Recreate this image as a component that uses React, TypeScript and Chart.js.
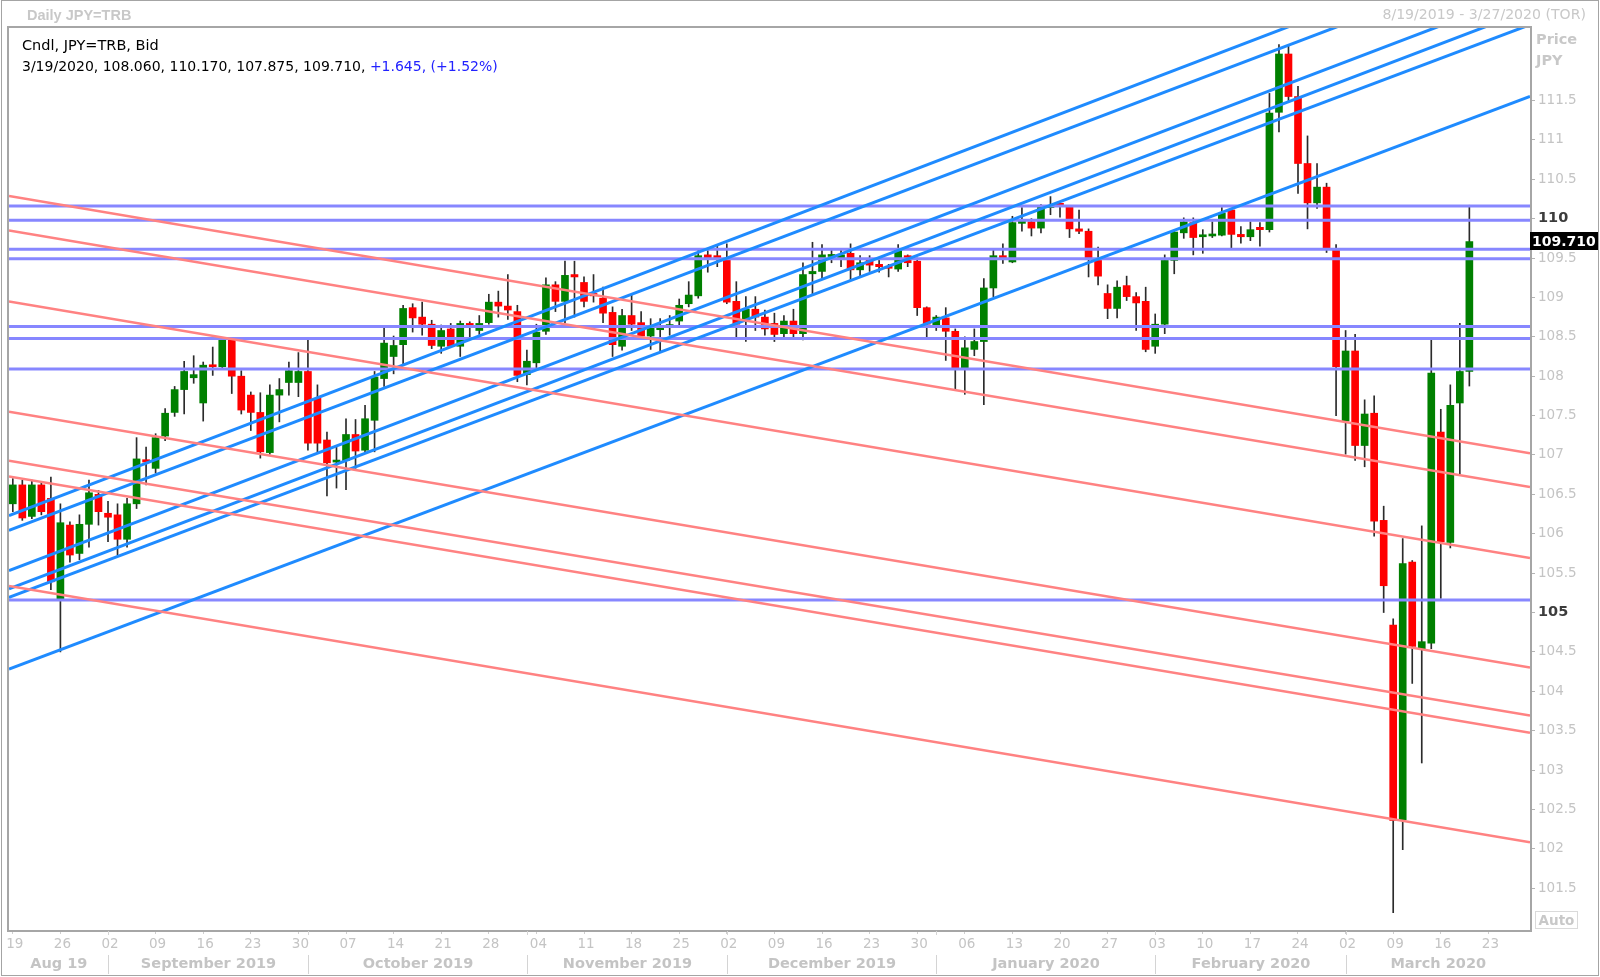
import React, { useEffect, useRef } from 'react';
import { Chart, registerables } from 'chart.js';

Chart.register(...registerables);

// Daily candles, one per weekday from Mon 19 Aug 2019 (index 0) to Thu 19 Mar 2020 (index 153)
const opens = [
  106.38, 106.62, 106.22, 106.62, 106.45, 105.17, 106.11, 105.75, 106.12, 106.50,
  106.26, 106.24, 105.93, 106.38, 106.94, 106.83, 107.24, 107.54, 107.83, 107.98,
  107.66, 108.14, 108.12, 108.47, 108.00, 107.76, 107.54, 107.03, 107.76, 107.92,
  107.92, 108.06, 107.72, 107.19, 106.91, 106.93, 107.26, 107.06, 107.44, 107.97,
  108.25, 108.40, 108.87, 108.75, 108.66, 108.38, 108.60, 108.38, 108.67, 108.58,
  108.68, 108.94, 108.89, 108.82, 108.02, 108.17, 108.57, 109.16, 108.95, 109.29,
  109.19, 109.05, 108.99, 108.81, 108.38, 108.77, 108.68, 108.51, 108.59, 108.63,
  108.70, 108.92, 109.02, 109.54, 109.53, 109.50, 108.95, 108.70, 108.85, 108.75,
  108.67, 108.54, 108.70, 108.54, 109.30, 109.33, 109.52, 109.50, 109.56, 109.35,
  109.47, 109.42, 109.39, 109.36, 109.53, 109.46, 108.87, 108.65, 108.74, 108.57,
  108.10, 108.34, 108.44, 109.12, 109.53, 109.45, 109.94, 109.96, 109.88, 110.14,
  110.18, 110.15, 109.87, 109.84, 109.47, 109.05, 108.86, 109.15, 109.01, 108.95,
  108.38, 108.66, 109.47, 109.82, 109.95, 109.77, 109.78, 109.79, 110.11, 109.80,
  109.77, 109.89, 109.86, 111.35, 112.09, 111.55, 110.70, 110.20, 110.40, 109.60,
  107.43, 108.32, 107.12, 107.53, 106.17, 104.84, 102.37, 105.64, 104.54, 104.61,
  107.29, 105.89, 107.66, 108.06,
];
const highs = [
  106.70, 106.68, 106.68, 106.66, 106.72, 106.38, 106.15, 106.24, 106.68, 106.55,
  106.41, 106.38, 106.45, 107.22, 107.10, 107.27, 107.59, 107.87, 108.19, 108.26,
  108.18, 108.37, 108.48, 108.48, 108.07, 107.80, 107.79, 107.89, 107.97, 108.18,
  108.30, 108.46, 107.89, 107.29, 107.10, 107.46, 107.45, 107.63, 108.06, 108.61,
  108.51, 108.90, 108.92, 108.94, 108.71, 108.65, 108.67, 108.70, 108.69, 108.77,
  109.04, 109.08, 109.29, 108.90, 108.33, 108.66, 109.25, 109.20, 109.46, 109.46,
  109.26, 109.29, 109.13, 108.88, 108.85, 109.04, 108.82, 108.73, 108.73, 108.77,
  108.98, 109.20, 109.61, 109.61, 109.66, 109.68, 109.20, 109.01, 109.01, 108.84,
  108.80, 108.77, 108.85, 109.44, 109.70, 109.67, 109.60, 109.60, 109.68, 109.53,
  109.53, 109.47, 109.42, 109.67, 109.54, 109.50, 108.88, 108.77, 108.87, 108.60,
  108.50, 108.60, 109.24, 109.60, 109.68, 110.03, 110.14, 110.00, 110.18, 110.28,
  110.20, 110.16, 110.11, 109.87, 109.64, 109.16, 109.21, 109.27, 109.06, 109.13,
  108.79, 109.54, 109.85, 110.01, 110.01, 109.86, 109.96, 110.14, 110.13, 109.90,
  109.96, 109.95, 111.59, 112.21, 112.19, 111.68, 111.05, 110.70, 110.45, 109.67,
  108.58, 108.53, 107.70, 107.75, 106.35, 104.92, 105.94, 105.66, 106.10, 108.46,
  107.58, 107.89, 108.67, 110.17,
];
const lows = [
  106.28, 106.17, 106.19, 106.24, 105.29, 104.50, 105.64, 105.67, 105.83, 106.11,
  105.90, 105.73, 105.83, 106.32, 106.62, 106.77, 107.18, 107.49, 107.52, 107.91,
  107.43, 108.01, 108.10, 107.78, 107.52, 107.31, 106.96, 107.01, 107.42, 107.76,
  107.74, 107.06, 107.04, 106.48, 106.58, 106.56, 106.83, 107.02, 107.04, 107.87,
  108.03, 108.16, 108.56, 108.52, 108.35, 108.29, 108.43, 108.25, 108.50, 108.53,
  108.66, 108.75, 108.72, 107.93, 107.89, 108.10, 108.53, 108.82, 108.68, 108.75,
  108.88, 108.94, 108.68, 108.25, 108.33, 108.58, 108.48, 108.34, 108.31, 108.52,
  108.64, 108.88, 108.99, 109.32, 109.39, 108.92, 108.50, 108.44, 108.58, 108.52,
  108.44, 108.50, 108.50, 108.46, 109.04, 109.25, 109.44, 109.39, 109.22, 109.27,
  109.33, 109.32, 109.26, 109.33, 109.39, 108.77, 108.50, 108.58, 108.20, 107.84,
  107.77, 108.26, 107.64, 109.01, 109.43, 109.44, 109.84, 109.78, 109.82, 110.05,
  110.02, 109.76, 109.81, 109.26, 109.16, 108.73, 108.74, 108.96, 108.58, 108.31,
  108.29, 108.54, 109.30, 109.75, 109.54, 109.56, 109.76, 109.78, 109.63, 109.69,
  109.72, 109.65, 109.83, 111.10, 111.50, 110.32, 109.87, 110.13, 109.57, 107.50,
  107.01, 106.93, 106.85, 105.97, 105.00, 101.19, 101.99, 104.10, 103.09, 104.54,
  105.18, 105.82, 106.76, 107.875,
];
const closes = [
  106.62, 106.20, 106.62, 106.28, 105.39, 106.14, 105.73, 106.12, 106.52, 106.28,
  106.21, 105.93, 106.38, 106.95, 106.91, 107.22, 107.53, 107.83, 108.06, 108.02,
  108.14, 108.12, 108.47, 108.00, 107.57, 107.54, 107.04, 107.76, 107.83, 108.07,
  108.06, 107.15, 107.15, 106.90, 106.92, 107.26, 107.05, 107.46, 107.99, 108.42,
  108.39, 108.86, 108.74, 108.66, 108.39, 108.58, 108.38, 108.67, 108.63, 108.67,
  108.94, 108.89, 108.84, 108.01, 108.19, 108.56, 109.16, 108.95, 109.28, 109.26,
  108.95, 109.02, 108.80, 108.40, 108.77, 108.66, 108.51, 108.61, 108.60, 108.65,
  108.90, 109.03, 109.53, 109.50, 109.49, 108.94, 108.66, 108.85, 108.75, 108.60,
  108.53, 108.70, 108.54, 109.29, 109.33, 109.54, 109.54, 109.54, 109.35, 109.44,
  109.41, 109.39, 109.37, 109.61, 109.44, 108.87, 108.66, 108.75, 108.57, 108.10,
  108.36, 108.44, 109.12, 109.53, 109.49, 109.95, 109.97, 109.88, 110.15, 110.15,
  110.17, 109.87, 109.84, 109.50, 109.27, 108.86, 109.13, 109.01, 108.93, 108.34,
  108.66, 109.47, 109.83, 109.96, 109.76, 109.78, 109.79, 110.07, 109.80, 109.77,
  109.86, 109.86, 111.34, 112.09, 111.55, 110.70, 110.20, 110.40, 109.62, 108.12,
  108.32, 107.12, 107.52, 106.16, 105.34, 102.36, 105.62, 104.57, 104.63, 108.04,
  105.90, 107.63, 108.06, 109.71,
];

// Weekly (Monday) tick positions and labels
const weekTickIdx = [0, 5, 10, 15, 20, 25, 30, 35, 40, 45, 50, 55, 60, 65, 70, 75, 80, 85, 90, 95, 100, 105, 110, 115, 120, 125, 130, 135, 140, 145, 150, 155];
const weekLabels = ['19', '26', '02', '09', '16', '23', '30', '07', '14', '21', '28', '04', '11', '18', '25', '02', '09', '16', '23', '30', '06', '13', '20', '27', '03', '10', '17', '24', '02', '09', '16', '23'];
// Month bands: first weekday index of each new month, and the month names
const monthStartIdx = [10, 31, 54, 75, 97, 120, 140];
const monthLabels = ['Aug 19', 'September 2019', 'October 2019', 'November 2019', 'December 2019', 'January 2020', 'February 2020', 'March 2020'];

// Price axis ticks
const priceTicks = [101.5, 102, 102.5, 103, 103.5, 104, 104.5, 105, 105.5, 106, 106.5, 107, 107.5, 108, 108.5, 109, 109.5, 110, 110.5, 111, 111.5];
const boldPriceTicks = [105, 110];

// Drawn studies: horizontal levels and trend lines given by two anchor points [index1, price1, index2, price2]
const levelLines = [110.16, 109.98, 109.61, 109.49, 108.63, 108.48, 108.09, 105.16];
const risingLines = [
  [0, 106.25, 120, 111.79],
  [0, 106.06, 120, 111.56],
  [0, 105.55, 120, 111.07],
  [0, 105.32, 120, 110.84],
  [0, 105.21, 120, 110.67],
  [0, 104.30, 120, 109.76],
];
const fallingLines = [
  [0, 110.28, 159, 107.03],
  [0, 109.84, 159, 106.60],
  [0, 108.94, 159, 105.70],
  [0, 107.54, 159, 104.31],
  [0, 106.92, 159, 103.70],
  [0, 106.72, 159, 103.48],
  [0, 105.33, 159, 102.09],
];

const X_MIN = -0.4;
const X_MAX = 159.37;
const Y_MIN = 100.97;
const Y_MAX = 112.42;

const GREEN = '#008000';
const RED = '#ff0000';
const AXIS_TEXT = '#c4c4c4';

function extend(seg: number[]) {
  const [x1, y1, x2, y2] = seg;
  const k = (y2 - y1) / (x2 - x1);
  return [
    { x: X_MIN, y: y1 + (X_MIN - x1) * k },
    { x: X_MAX, y: y1 + (X_MAX - x1) * k },
  ];
}

function lineDataset(points: { x: number; y: number }[], color: string, width: number) {
  return {
    type: 'line' as const,
    data: points,
    borderColor: color,
    borderWidth: width,
    pointRadius: 0,
    fill: false,
    tension: 0,
    clip: 0,
    order: 0,
  };
}

const decorPlugin = {
  id: 'decor',
  afterDraw(chart: any) {
    const { ctx, chartArea: a, scales } = chart;
    const xs = scales.x;
    const ys = scales.y;
    ctx.save();
    // plot frame
    ctx.strokeStyle = '#a6a6a6';
    ctx.lineWidth = 2;
    ctx.strokeRect(a.left - 1, a.top - 1, a.right - a.left + 2, a.bottom - a.top + 2);

    // month separators, boundary ticks and month names
    ctx.strokeStyle = '#d4d4d4';
    ctx.lineWidth = 1;
    const bounds = [a.left];
    monthStartIdx.forEach((ix) => {
      const px = Math.round(xs.getPixelForValue(ix)) + 0.5;
      bounds.push(px);
      ctx.beginPath();
      ctx.moveTo(px, a.bottom + 25);
      ctx.lineTo(px, a.bottom + 44);
      ctx.moveTo(px, a.bottom + 1);
      ctx.lineTo(px, a.bottom + 5);
      ctx.stroke();
    });
    bounds.push(a.right);
    ctx.fillStyle = AXIS_TEXT;
    ctx.font = 'bold 14.5px "DejaVu Sans"';
    ctx.textAlign = 'center';
    ctx.textBaseline = 'middle';
    monthLabels.forEach((lab, k) => {
      const cx = (bounds[k] + bounds[k + 1]) / 2;
      ctx.fillText(lab, cx, a.bottom + 34);
    });

    // last price marker
    const last = closes[closes.length - 1];
    const yp = ys.getPixelForValue(last);
    ctx.fillStyle = '#000000';
    ctx.fillRect(a.right, Math.round(yp - 9), 68, 18);
    ctx.fillStyle = '#ffffff';
    ctx.font = 'bold 14px "DejaVu Sans"';
    ctx.textAlign = 'left';
    ctx.fillText(last.toFixed(3), a.right + 2, yp + 0.5);
    ctx.restore();
  },
};

export default function App() {
  const canvasRef = useRef<HTMLCanvasElement | null>(null);

  useEffect(() => {
    const canvas = canvasRef.current;
    if (!canvas) return;

    const bodyData = opens.map((o, i) => ({ x: i, y: [o, closes[i]] }));
    const bodyColors = opens.map((o, i) => (closes[i] >= o ? GREEN : RED));
    const wickData = lows.map((l, i) => ({ x: i, y: [l, highs[i]] }));

    const datasets: any[] = [];
    fallingLines.forEach((s) => datasets.push(lineDataset(extend(s), '#ff8282', 2.5)));
    risingLines.forEach((s) => datasets.push(lineDataset(extend(s), '#1f8bff', 3)));
    levelLines.forEach((v) =>
      datasets.push(lineDataset([{ x: X_MIN, y: v }, { x: X_MAX, y: v }], '#8787ff', 3))
    );
    datasets.push({
      type: 'bar',
      data: bodyData,
      backgroundColor: bodyColors,
      borderWidth: 0,
      barThickness: 7,
      minBarLength: 2,
      grouped: false,
      order: 1,
    });
    datasets.push({
      type: 'bar',
      data: wickData,
      backgroundColor: '#2b2b2b',
      borderWidth: 0,
      barThickness: 1,
      grouped: false,
      order: 2,
    });

    const chart = new Chart(canvas, {
      type: 'bar',
      data: { datasets },
      plugins: [decorPlugin],
      options: {
        responsive: false,
        animation: false,
        events: [],
        layout: { padding: { left: 9, top: 28, right: 0, bottom: 0 } },
        plugins: { legend: { display: false }, tooltip: { enabled: false }, title: { display: false } },
        scales: {
          x: {
            type: 'linear',
            position: 'bottom',
            min: X_MIN,
            max: X_MAX,
            offset: false,
            afterFit: (s: any) => {
              s.height = 47;
            },
            afterBuildTicks: (s: any) => {
              s.ticks = weekTickIdx.map((v) => ({ value: v }));
            },
            ticks: {
              autoSkip: false,
              maxRotation: 0,
              padding: 2,
              labelOffset: 2,
              color: AXIS_TEXT,
              font: { family: 'DejaVu Sans', size: 13.5 },
              callback: (v: any) => {
                const k = weekTickIdx.indexOf(Number(v));
                return k >= 0 ? weekLabels[k] : '';
              },
            },
            grid: { drawOnChartArea: false, drawTicks: true, tickLength: 4, color: '#cfcfcf', offset: false },
            border: { display: false },
          },
          y: {
            type: 'linear',
            position: 'right',
            min: Y_MIN,
            max: Y_MAX,
            afterFit: (s: any) => {
              s.width = 70;
            },
            afterBuildTicks: (s: any) => {
              s.ticks = priceTicks.map((v) => ({ value: v }));
            },
            ticks: {
              padding: 3,
              color: (c: any) => (c.tick && boldPriceTicks.includes(c.tick.value) ? '#3c3c3c' : AXIS_TEXT),
              font: (c: any) =>
                c.tick && boldPriceTicks.includes(c.tick.value)
                  ? { family: 'DejaVu Sans', size: 14.5, weight: 'bold' }
                  : { family: 'DejaVu Sans', size: 13.5 },
              callback: (v: any) => String(v),
            },
            grid: { drawOnChartArea: false, drawTicks: true, tickLength: 5, color: '#b4b4b4' },
            border: { display: false },
          },
        },
      } as any,
    });
    return () => chart.destroy();
  }, []);

  const abs: React.CSSProperties = { position: 'absolute', whiteSpace: 'nowrap', pointerEvents: 'none' };

  return (
    <div style={{ position: 'absolute', left: 0, top: 0, width: 1600, height: 977, background: '#ffffff', overflow: 'hidden' }}>
      <canvas ref={canvasRef} width={1600} height={977} style={{ position: 'absolute', left: 0, top: 0, width: 1600, height: 977 }} />
      <div style={{ ...abs, left: 1, top: 0, width: 1598, height: 976, border: '1px solid #a4a4a4', boxSizing: 'border-box' }} />
      <div style={{ ...abs, left: 27, top: 7, lineHeight: '20px', font: 'bold 14.5px "Liberation Sans"', color: '#c8c8c8' }}>
        Daily JPY=TRB
      </div>
      <div style={{ ...abs, right: 14, top: 6, lineHeight: '20px', font: '14.1px "DejaVu Sans"', color: '#c8c8c8' }}>
        8/19/2019 - 3/27/2020 (TOR)
      </div>
      <div style={{ ...abs, left: 22, top: 37, lineHeight: '20px', font: '14.5px "DejaVu Sans"', color: '#000000' }}>
        Cndl, JPY=TRB, Bid
      </div>
      <div style={{ ...abs, left: 22, top: 58, lineHeight: '20px', font: '14px "DejaVu Sans"', color: '#000000' }}>
        3/19/2020, 108.060, 110.170, 107.875, 109.710, <span style={{ color: '#2222ff' }}>+1.645, (+1.52%)</span>
      </div>
      <div style={{ ...abs, left: 1536, top: 31, lineHeight: '20px', font: 'bold 14.5px "DejaVu Sans"', color: '#c8c8c8' }}>
        Price
      </div>
      <div style={{ ...abs, left: 1536, top: 52, lineHeight: '20px', font: 'bold 14.5px "DejaVu Sans"', color: '#c8c8c8' }}>
        JPY
      </div>
      <div
        style={{
          ...abs,
          left: 1535,
          top: 911,
          width: 43,
          height: 18,
          border: '1px solid #dadada',
          boxSizing: 'border-box',
          lineHeight: '16px',
          textAlign: 'center',
          font: 'bold 13.5px "DejaVu Sans"',
          color: '#c8c8c8',
        }}
      >
        Auto
      </div>
    </div>
  );
}
